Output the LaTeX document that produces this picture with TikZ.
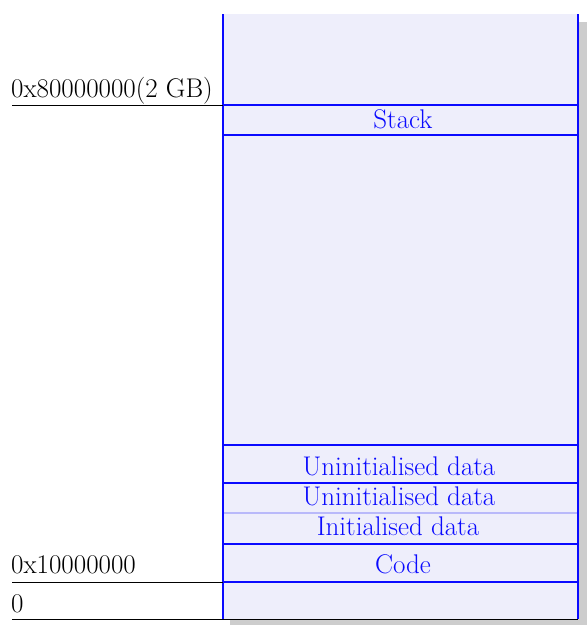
\documentclass[tikz,border=0pt]{standalone}
\definecolor{segfill}{RGB}{238,238,251}
\definecolor{segline}{RGB}{10,10,255}
\definecolor{segfaint}{RGB}{185,185,250}
\definecolor{shadowgrey}{RGB}{205,205,205}
\tikzset{
  memfont/.style={font=\fontsize{27}{32}\selectfont},
  segrule/.style={draw=segline, line width=1.2pt},
  faintrule/.style={draw=segfaint, line width=1.2pt},
  addrrule/.style={draw=black, line width=0.9pt},
  segtext/.style={memfont, text=segline, anchor=base, inner sep=0pt},
  addrtext/.style={memfont, text=black, anchor=base west, inner sep=0pt}
}
\begin{document}
\begin{tikzpicture}[x=1pt,y=-1pt]
  \useasboundingbox (0,0) rectangle (587,625);
  % drop shadow and body of the address space
  \fill[shadowgrey] (230,22) rectangle (587,625);
  \fill[segfill] (223,14) rectangle (578,619);
  % segment boundaries
  \draw[segrule] (223,105) -- (578,105);
  \draw[segrule] (223,135) -- (578,135);
  \draw[segrule] (223,445) -- (578,445);
  \draw[segrule] (223,483) -- (578,483);
  \draw[faintrule] (223,513) -- (578,513);
  \draw[segrule] (223,544) -- (578,544);
  \draw[segrule] (223,582) -- (578,582);
  \draw[segrule] (223,14) -- (223,619);
  \draw[segrule] (578,14) -- (578,619);
  % segment names
  \node[segtext] (stack) at (403,128) {Stack};
  \node[segtext] (bss1)  at (399,475) {Uninitialised data};
  \node[segtext] (bss2)  at (399,505) {Uninitialised data};
  \node[segtext] (data)  at (398,535) {Initialised data};
  \node[segtext] (code)  at (403,573) {Code};
  % addresses on the left
  \node[addrtext] (top)  at (11,97)  {0x80000000(2 GB)};
  \node[addrtext] (base) at (11,573) {0x10000000};
  \node[addrtext] (zero) at (11,612) {0};
  \coordinate (topR)  at (223,105);
  \coordinate (baseR) at (223,582);
  \coordinate (zeroR) at (578,619);
  \draw[addrrule] (12,105) -- (topR);
  \draw[addrrule] (12,582) -- (baseR);
  \draw[addrrule] (12,619) -- (zeroR);
\end{tikzpicture}
\end{document}
